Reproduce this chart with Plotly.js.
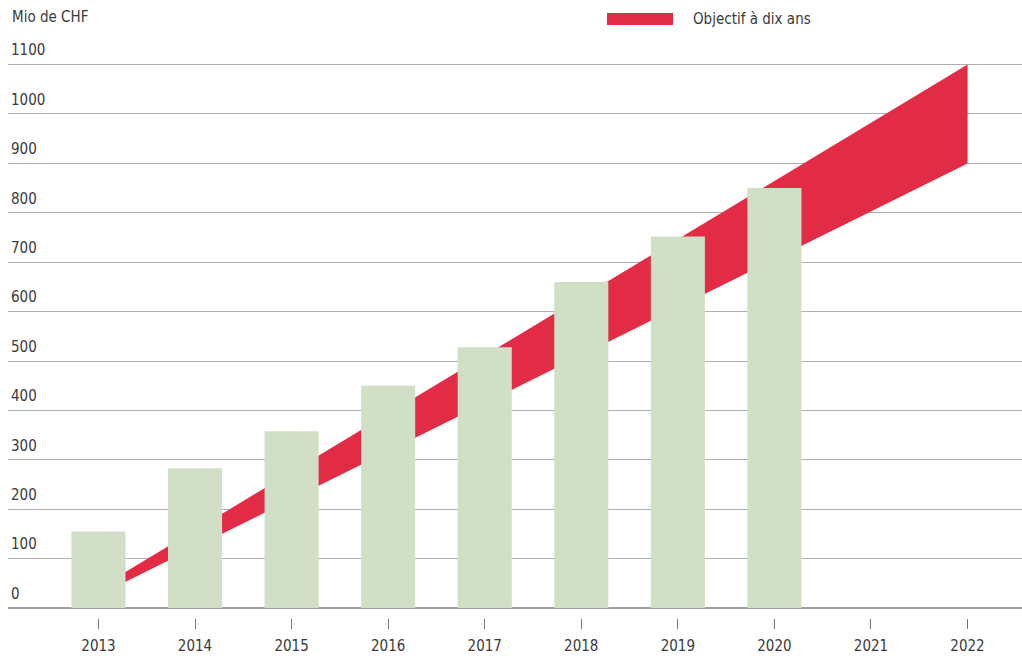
<!DOCTYPE html>
<html>
<head>
<meta charset="utf-8">
<script src="https://cdn.plot.ly/plotly-3.0.1.min.js"></script>
<style>
html,body{margin:0;padding:0;background:#fff;}
#chart{width:1022px;height:658px;}
</style>
</head>
<body>
<div id="chart"></div>
<script>
// Data
const years = [2013, 2014, 2015, 2016, 2017, 2018, 2019, 2020];
const values = [155, 283, 358, 450, 528, 660, 752, 850];
const tickYears = [2013, 2014, 2015, 2016, 2017, 2018, 2019, 2020, 2021, 2022];
const targetYears = [2013, 2022];
const targetLow = [26, 900];
const targetHigh = [40, 1100];
const yTicks = [0, 100, 200, 300, 400, 500, 600, 700, 800, 900, 1000, 1100];
const unitLabel = "Mio de CHF";
const targetLabel = "Objectif à dix ans";

const FONT = '"Liberation Sans Narrow", "DejaVu Sans Condensed", "Roboto Condensed", sans-serif';
const RED = '#e22b44';
const GREEN = '#d0dfc6';
const TXT = '#3a3a3a';

const XR = [2012.063, 2022.564];
const YR = [-20.2, 1170];
const T = 30, B = 40, L = 8, R = 0;
const PH = 658 - T - B, PW = 1022 - L - R;

const traces = [
  {type: 'scatter', mode: 'lines', x: targetYears, y: targetLow, xaxis: 'x', yaxis: 'y',
   line: {width: 0, color: RED}, hoverinfo: 'skip', showlegend: false},
  {type: 'scatter', mode: 'lines', x: targetYears, y: targetHigh, xaxis: 'x', yaxis: 'y',
   line: {width: 0, color: RED}, fill: 'tonexty', fillcolor: RED,
   hoverinfo: 'skip', showlegend: false},
  {type: 'bar', x: years, y: values, width: 0.56, xaxis: 'x2', yaxis: 'y2',
   marker: {color: GREEN, line: {width: 0}}, hoverinfo: 'skip', showlegend: false}
];

const layout = {
  width: 1022, height: 658,
  margin: {l: L, r: R, t: T, b: B},
  paper_bgcolor: '#fff', plot_bgcolor: '#fff',
  showlegend: false,
  font: {family: FONT, size: 15, color: TXT},
  xaxis: {
    range: XR,
    tickvals: tickYears, ticktext: tickYears.map(String),
    showgrid: false, zeroline: false, showline: false,
    ticks: 'outside', ticklen: 10, tickcolor: '#777', tickwidth: 1,
    ticklabelstandoff: 4,
    tickfont: {family: FONT, size: 15, color: TXT},
    fixedrange: true
  },
  yaxis: {
    range: YR,
    tickvals: yTicks, ticktext: yTicks.map(String),
    ticklabelposition: 'inside top', ticklabelshift: -4,
    showgrid: true, gridcolor: '#b0b0b0', gridwidth: 1,
    zeroline: true, zerolinecolor: '#a0a0a0', zerolinewidth: 1.5,
    showline: false, ticks: '',
    tickfont: {family: FONT, size: 15, color: TXT},
    fixedrange: true
  },
  xaxis2: {
    range: XR, overlaying: 'x', anchor: 'y2',
    showgrid: false, zeroline: false, showline: false, showticklabels: false, ticks: '',
    fixedrange: true
  },
  yaxis2: {
    range: YR, overlaying: 'y', anchor: 'x2',
    showgrid: false, zeroline: false, showline: false, showticklabels: false, ticks: '',
    fixedrange: true
  },
  shapes: [
    {type: 'rect', xref: 'paper', yref: 'paper',
     x0: (607 - L) / PW, x1: (673 - L) / PW,
     y0: (658 - B - 25) / PH, y1: (658 - B - 13) / PH,
     fillcolor: RED, line: {width: 0}}
  ],
  annotations: [
    {text: unitLabel, xref: 'paper', yref: 'paper', x: (10 - L) / PW, y: (658 - B - 17) / PH,
     xanchor: 'left', yanchor: 'middle', showarrow: false,
     font: {family: FONT, size: 15, color: TXT}},
    {text: targetLabel, xref: 'paper', yref: 'paper', x: (691 - L) / PW, y: (658 - B - 19) / PH,
     xanchor: 'left', yanchor: 'middle', showarrow: false,
     font: {family: FONT, size: 15, color: TXT}}
  ]
};

Plotly.newPlot('chart', traces, layout, {displayModeBar: false, staticPlot: true});
</script>
</body>
</html>
